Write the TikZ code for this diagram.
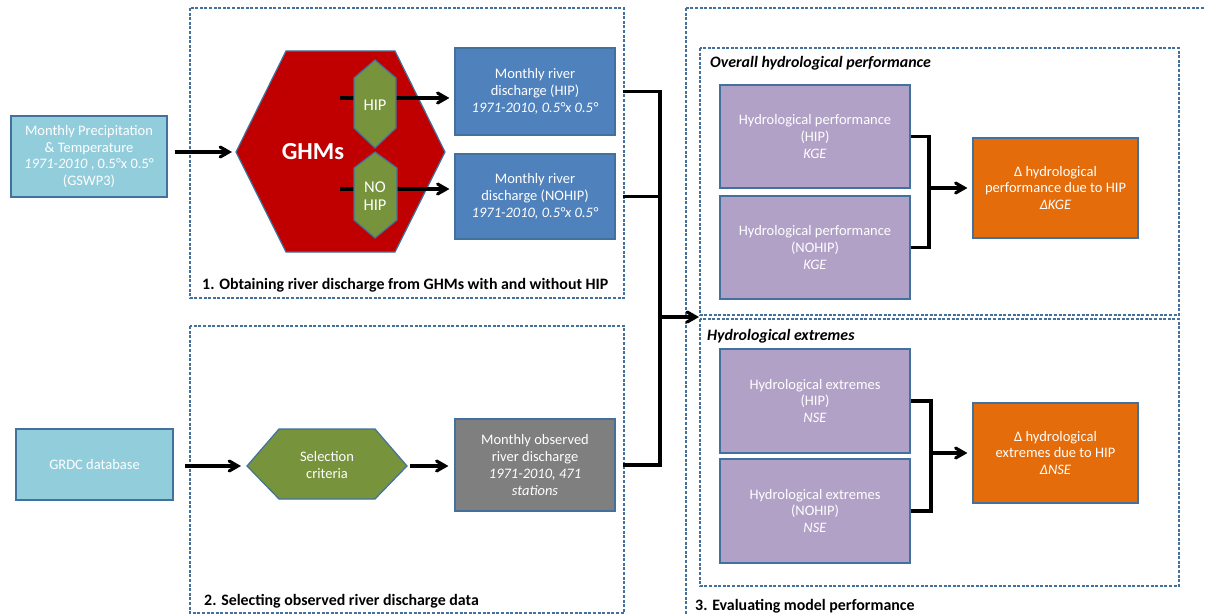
\documentclass[tikz,border=0pt]{standalone}
\usepackage{fontspec}
\setmainfont{Carlito}
\usetikzlibrary{arrows}

\definecolor{edgeblue}{HTML}{41719C}
\definecolor{skyblue}{HTML}{92CDDC}
\definecolor{runblue}{HTML}{4F81BD}
\definecolor{ghmred}{HTML}{C00000}
\definecolor{olive}{HTML}{77933C}
\definecolor{obsgray}{HTML}{7F7F7F}
\definecolor{lilac}{HTML}{B2A1C7}
\definecolor{deltaorange}{HTML}{E46C0A}

\begin{document}
\begin{tikzpicture}[>=angle 60, x=1pt, y=-1pt]
	\tikzstyle{every node} = [font=\fontsize{14.5}{16.7}\selectfont, text=white, align=center, inner sep=0pt];
	\tikzstyle{box} = [rectangle, draw=edgeblue, line width=1.2pt];
	\tikzstyle{hexa} = [draw=edgeblue, line width=1.2pt];
	\tikzstyle{frame} = [draw=edgeblue, line width=1.1pt, dash pattern=on 3pt off 1.6pt];
	\tikzstyle{link} = [line width=3.2pt];
	\tikzstyle{flow} = [->, line width=3.2pt, shorten >=5pt];
	\tikzstyle{title} = [anchor=base west, text=black, font=\fontsize{15.9}{18}\selectfont\bfseries];

	\clip (0,0) rectangle (1206,615);
	\fill[white] (0,0) rectangle (1206,615);

	% dashed frames
	\draw[frame] (190,8) rectangle (624,298);
	\draw[frame] (190,326) rectangle (624,613);
	\draw[frame] (686,8) rectangle (1220,630);
	\draw[frame] (700,48) rectangle (1179,315);
	\draw[frame] (700,319) rectangle (1179,586);

	\node[title] (t1) at (202,289) {1. Obtaining river discharge from GHMs with and without HIP};
	\node[title] (t2) at (204,605) {2. Selecting observed river discharge data};
	\node[title] (t3) at (695,610) {3. Evaluating model performance};
	\node[title, font=\fontsize{15.9}{18}\selectfont\bfseries\itshape] (t4) at (710,68) {Overall hydrological performance};
	\node[title, font=\fontsize{15.9}{18}\selectfont\bfseries\itshape] (t5) at (707,340) {Hydrological extremes};

	% inputs
	\node[box, fill=skyblue, minimum width=156pt, minimum height=81pt] (clim) at (89,156.5) {Monthly Precipitation\\\& Temperature\\\textit{1971-2010} , 0.5°x 0.5°\\(GSWP3)};
	\node[box, fill=skyblue, minimum width=157pt, minimum height=71pt] (grdc) at (94.5,464.5) {GRDC database};

	% GHMs
	\draw[hexa, fill=ghmred] (236,152) -- (286,51) -- (395,51) -- (445,152) -- (395,252) -- (286,252) -- cycle;
	\node[font=\fontsize{24.5}{28}\selectfont\bfseries] (ghm) at (313,152) {GHMs};
	\coordinate (ghmW) at (236,152);

	\node[box, fill=runblue, minimum width=160pt, minimum height=87pt] (q1) at (535,91.5) {Monthly river\\discharge (HIP)\\\textit{1971-2010, 0.5°x 0.5°}};
	\node[box, fill=runblue, minimum width=160pt, minimum height=85pt] (q2) at (535,196.5) {Monthly river\\discharge (NOHIP)\\\textit{1971-2010, 0.5°x 0.5°}};

	\coordinate (hipS) at (340,98);
	\coordinate (nohipS) at (340,189);
	\draw[flow] (hipS) -- (hipS -| q1.west);
	\draw[flow] (nohipS) -- (nohipS -| q2.west);

	\draw[hexa, fill=olive] (375,60) -- (396,78) -- (396,128) -- (375,148) -- (354,128) -- (354,78) -- cycle;
	\node[font=\fontsize{16.5}{18.5}\selectfont] (hip) at (375,105) {HIP};
	\draw[hexa, fill=olive] (375,152) -- (397,168) -- (397,220) -- (375,238) -- (354,220) -- (354,168) -- cycle;
	\node[font=\fontsize{16.5}{18.5}\selectfont] (nohip) at (375,196) {NO\\HIP};

	% observations
	\draw[hexa, fill=olive] (247,466) -- (279,429) -- (375,429) -- (407,466) -- (375,499) -- (279,499) -- cycle;
	\node (sel) at (327,465) {Selection\\criteria};
	\coordinate (selW) at (247,466);
	\coordinate (selE) at (407,466);
	\node[box, fill=obsgray, minimum width=160pt, minimum height=92pt] (obs) at (535,465) {Monthly observed\\river discharge\\\textit{1971-2010, 471}\\\textit{stations}};

	\draw[flow, shorten <=7pt, shorten >=4pt] (clim.east |- ghmW) -- (ghmW);
	\draw[flow, shorten <=11pt, shorten >=6pt] (grdc.east |- selW) -- (selW);
	\draw[flow, shorten <=3pt, shorten >=6pt] (selE) -- (selE -| obs.west);

	% evaluation
	\node[box, fill=lilac, minimum width=190pt, minimum height=103pt] (kge1) at (815,136.5) {Hydrological performance\\(HIP)\\\textit{KGE}};
	\node[box, fill=lilac, minimum width=190pt, minimum height=103pt] (kge2) at (815,247.5) {Hydrological performance\\(NOHIP)\\\textit{KGE}};
	\node[box, fill=deltaorange, minimum width=165pt, minimum height=100pt] (dkge) at (1055.5,188) {Δ hydrological\\performance due to HIP\\\textit{ΔKGE}};
	\node[box, fill=lilac, minimum width=190pt, minimum height=104pt] (nse1) at (815,401) {Hydrological extremes\\(HIP)\\\textit{NSE}};
	\node[box, fill=lilac, minimum width=190pt, minimum height=104pt] (nse2) at (815,511) {Hydrological extremes\\(NOHIP)\\\textit{NSE}};
	\node[box, fill=deltaorange, minimum width=165pt, minimum height=100pt] (dnse) at (1055.5,453) {Δ hydrological\\extremes due to HIP\\\textit{ΔNSE}};

	\coordinate (bus) at (660,317);
	\coordinate (inp) at (700,317);
	\draw[link, shorten <=7pt] (q1.east) -| (bus);
	\draw[link, shorten <=7pt] (q2.east) -| (bus);
	\draw[link, shorten <=7pt] (obs.east) -| (bus);
	\draw[flow, shorten >=1pt] (bus) -- (inp);

	\coordinate (kbus) at (929,188);
	\draw[link] (kge1.east) -| (kbus);
	\draw[link] (kge2.east) -| (kbus);
	\draw[flow] (kbus) -- (kbus -| dkge.west);

	\coordinate (nbus) at (931,453);
	\draw[link] (nse1.east) -| (nbus);
	\draw[link] (nse2.east) -| (nbus);
	\draw[flow] (nbus) -- (nbus -| dnse.west);
\end{tikzpicture}
\end{document}
